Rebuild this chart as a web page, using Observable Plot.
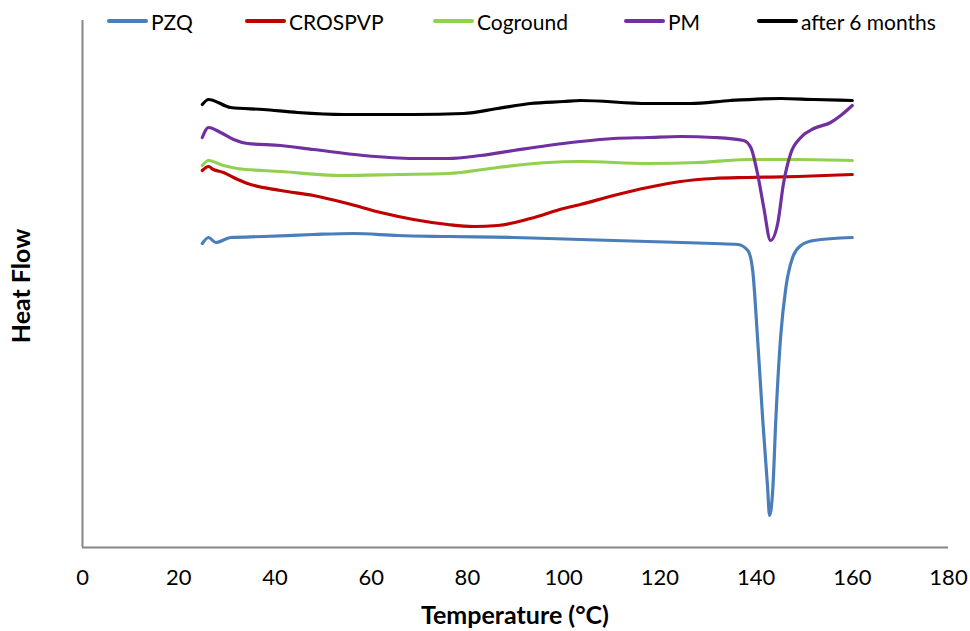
<!DOCTYPE html>
<html>
<head>
<meta charset="utf-8">
<script src="https://cdn.jsdelivr.net/npm/d3@7"></script>
<script src="https://cdn.jsdelivr.net/npm/@observablehq/plot@0.6"></script>
<style>
  html, body { margin: 0; padding: 0; background: #fff; }
  #wrap { position: relative; width: 970px; height: 631px; font-family: Lato, "Open Sans", sans-serif; }
  .lg { position: absolute; top: 8px; height: 26px; display: flex; align-items: center; font-size: 21px; color: #000; white-space: nowrap; }
  .lg span.sw { display: inline-block; width: 41px; height: 3.5px; margin-right: 3px; border-radius: 2px; }
  #xt { position: absolute; left: 0; width: 1030px; top: 599px; text-align: center; font-weight: bold; font-size: 25px; line-height: 30px; }
  #yt { position: absolute; left: 20px; top: 286px; transform: translate(-50%, -50%) rotate(-90deg); font-weight: bold; font-size: 25px; white-space: nowrap; }
</style>
</head>
<body>
<div id="wrap"></div>
<script>
// ---- data (temperature °C, heat flow in arbitrary units) ----
const seriesNames = ["PZQ", "CROSPVP", "Coground", "PM", "after 6 months"];
const seriesColors = ["#4a7ebb", "#c00000", "#92d050", "#7030a0", "#000000"];
const xTicks = [0, 20, 40, 60, 80, 100, 120, 140, 160, 180];

const pzqT  = [24.9, 26.2, 27.7, 30.8, 37.6, 48.0, 56.3, 65.5, 75.9, 89.6, 103.5, 117.5, 131.2, 136.2, 138.3, 139.3, 140.3, 141.4, 142.4, 142.8, 143.5, 144.1, 145.1, 146.2, 147.6, 149.3, 152.0, 160];
const pzqHF = [30.4, 31.0, 30.5, 31.0, 31.1, 31.3, 31.4, 31.2, 31.1, 31.0, 30.8, 30.6, 30.4, 30.3, 29.7, 27.7, 21.0, 12.7, 6.0, 3.2, 6.0, 12.7, 21.0, 26.0, 29.0, 30.2, 30.7, 31.0];

const crosT  = [24.9, 26.2, 27.2, 29.3, 31.4, 34.3, 41.2, 48.0, 55.1, 62.0, 68.8, 75.9, 81.3, 86.3, 93.1, 100.0, 103.5, 110.4, 117.5, 124.3, 131.2, 138.3, 148.7, 160];
const crosHF = [37.7, 38.1, 37.8, 37.5, 37.0, 36.4, 35.7, 35.2, 34.4, 33.5, 32.8, 32.3, 32.1, 32.2, 32.9, 33.9, 34.3, 35.2, 36.0, 36.6, 36.9, 37.0, 37.1, 37.3];

const cogT  = [24.9, 26.2, 29.3, 32.2, 41.2, 53.6, 65.5, 75.9, 86.3, 96.7, 103.5, 117.5, 127.9, 138.3, 148.7, 160];
const cogHF = [38.2, 38.7, 38.2, 37.9, 37.6, 37.2, 37.3, 37.4, 38.0, 38.5, 38.6, 38.4, 38.5, 38.8, 38.8, 38.7];

const pmT  = [24.9, 26.2, 28.7, 31.4, 34.3, 41.2, 48.0, 58.4, 68.8, 75.9, 82.7, 89.6, 96.7, 103.5, 110.4, 117.5, 124.3, 131.2, 137.4, 138.9, 140.3, 141.6, 143.0, 144.5, 145.7, 147.2, 149.3, 152.0, 155.5, 157.6, 160];
const pmHF = [41.0, 42.0, 41.5, 40.8, 40.4, 40.2, 39.8, 39.2, 38.9, 38.9, 39.2, 39.7, 40.2, 40.6, 40.9, 41.0, 41.1, 41.0, 40.7, 40.0, 37.4, 34.0, 30.7, 32.4, 36.4, 39.4, 41.0, 41.9, 42.5, 43.2, 44.2];

const aftT  = [24.9, 26.2, 30.8, 37.6, 44.7, 54.3, 68.8, 79.2, 86.3, 93.1, 100.0, 103.5, 117.5, 126.4, 134.7, 145.1, 152.0, 160];
const aftHF = [44.3, 44.8, 44.0, 43.8, 43.5, 43.3, 43.3, 43.4, 43.9, 44.4, 44.6, 44.7, 44.4, 44.4, 44.7, 44.9, 44.8, 44.7];

// ---- build table ----
const seriesT = [pzqT, crosT, cogT, pmT, aftT];
const seriesHF = [pzqHF, crosHF, cogHF, pmHF, aftHF];
const rows = [];
seriesNames.forEach((name, i) => {
  seriesT[i].forEach((t, j) => rows.push({series: name, T: t, HF: seriesHF[i][j]}));
});

const axisGray = "#868686";

const chart = Plot.plot({
  width: 970,
  height: 631,
  marginLeft: 82,
  marginRight: 22,
  marginTop: 20,
  marginBottom: 84,
  style: {fontFamily: "Lato, 'Open Sans', sans-serif", background: "#fff"},
  x: {domain: [0, 180]},
  y: {domain: [0, 52.7]},
  color: {domain: seriesNames, range: seriesColors},
  marks: [
    Plot.axisX({ticks: xTicks, tickSize: 0, tickPadding: 22, fontSize: 22, label: null, tickFormat: d => String(d), color: "#000"}),
    Plot.axisY({ticks: [], label: null}),
    Plot.ruleX([0], {stroke: axisGray, strokeWidth: 2}),
    Plot.ruleY([0], {stroke: axisGray, strokeWidth: 2}),
    Plot.line(rows, {x: "T", y: "HF", z: "series", stroke: "series", strokeWidth: 3.2, curve: "monotone-x", strokeLinejoin: "round", strokeLinecap: "round"})
  ]
});

const wrap = document.getElementById("wrap");
wrap.appendChild(chart);

// legend
const legendPos = [107, 245, 433, 624, 757];
seriesNames.forEach((name, i) => {
  const d = document.createElement("div");
  d.className = "lg";
  d.style.left = legendPos[i] + "px";
  const sw = document.createElement("span");
  sw.className = "sw";
  sw.style.background = seriesColors[i];
  d.appendChild(sw);
  d.appendChild(document.createTextNode(name));
  wrap.appendChild(d);
});

const xt = document.createElement("div");
xt.id = "xt";
xt.textContent = "Temperature (°C)";
wrap.appendChild(xt);

const yt = document.createElement("div");
yt.id = "yt";
yt.textContent = "Heat Flow";
wrap.appendChild(yt);
</script>
</body>
</html>
